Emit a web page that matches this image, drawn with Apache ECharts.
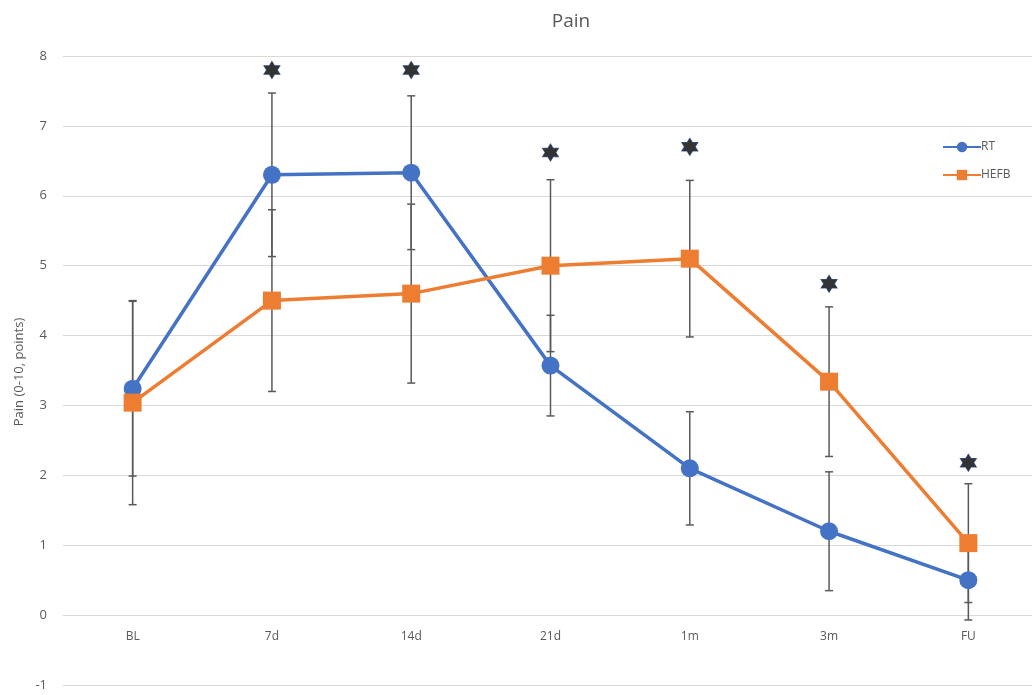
<!DOCTYPE html>
<html>
<head>
<meta charset="utf-8">
<title>Pain</title>
<script src="https://cdn.jsdelivr.net/npm/echarts@6/dist/echarts.min.js"></script>
<style>
  html, body { margin: 0; padding: 0; background: #ffffff; }
  #chart { width: 1032px; height: 695px; }
</style>
</head>
<body>
<div id="chart"></div>
<script>
// Time points
const categories = ['BL', '7d', '14d', '21d', '1m', '3m', 'FU'];

// Mean pain scores (0-10)
const rtMean   = [3.24, 6.30, 6.33, 3.57, 2.10, 1.20, 0.50];
const hefbMean = [3.04, 4.50, 4.60, 5.00, 5.10, 3.34, 1.03];

// Standard deviations (symmetric error bars)
const rtSD   = [1.25, 1.17, 1.10, 0.72, 0.81, 0.85, 0.57];
const hefbSD = [1.46, 1.30, 1.28, 1.23, 1.12, 1.07, 0.85];

// Significance markers: [category, height]
const sigMarks = [['7d', 7.8], ['14d', 7.8], ['21d', 6.62], ['1m', 6.7], ['3m', 4.74], ['FU', 2.18]];

// Y axis ticks
const yMin = -1, yMax = 8, yStep = 1;

const textColor = '#595959';
const gridColor = '#d9d9d9';
const barColor = '#595959';
const fontFamily = '"Open Sans", "Noto Sans", sans-serif';

// Plot box
const plotTop = 56, plotHeight = 629;
// Category labels sit on the zero line, one step above the bottom gridline
const zeroLift = -plotHeight / (yMax - yMin) * (0 - yMin);

function errorData(mean, sd) {
  return mean.map((m, i) => [i, m - sd[i], m + sd[i]]);
}

function renderErrorBar(params, api) {
  const x = api.value(0);
  const lo = api.coord([x, api.value(1)]);
  const hi = api.coord([x, api.value(2)]);
  const cap = 4;
  const style = { stroke: barColor, lineWidth: 1.5, fill: null };
  return {
    type: 'group',
    children: [
      { type: 'line', shape: { x1: hi[0], y1: hi[1], x2: lo[0], y2: lo[1] }, style },
      { type: 'line', shape: { x1: hi[0] - cap, y1: hi[1], x2: hi[0] + cap, y2: hi[1] }, style },
      { type: 'line', shape: { x1: lo[0] - cap, y1: lo[1], x2: lo[0] + cap, y2: lo[1] }, style }
    ]
  };
}

// Six-pointed star
const hexagram = 'path://M0,-10 L2.887,-5 L8.66,-5 L5.774,0 L8.66,5 L2.887,5 L0,10 L-2.887,5 L-8.66,5 L-5.774,0 L-8.66,-5 L-2.887,-5 Z';

const chart = echarts.init(document.getElementById('chart'), null, { renderer: 'canvas' });

chart.setOption({
  backgroundColor: '#ffffff',
  animation: false,
  textStyle: { fontFamily },
  title: {
    text: 'Pain',
    left: 566,
    top: 7,
    textAlign: 'center',
    textStyle: { color: textColor, fontSize: 19, fontWeight: 'normal', fontFamily }
  },
  legend: {
    orient: 'vertical',
    left: 937,
    top: 136,
    itemWidth: 38,
    itemHeight: 13,
    itemGap: 16,
    textStyle: { color: textColor, fontSize: 12, padding: [0, 0, 0, -5] },
    data: ['RT', 'HEFB']
  },
  grid: { left: 63, top: plotTop, width: 975, height: plotHeight, containLabel: false, outerBoundsMode: 'none' },
  xAxis: {
    type: 'category',
    data: categories,
    boundaryGap: true,
    position: 'bottom',
    offset: zeroLift,
    axisLine: { show: true, onZero: false, lineStyle: { color: gridColor, width: 1 } },
    axisTick: { show: false },
    axisLabel: { color: textColor, fontSize: 12, margin: 15 },
    splitLine: { show: false },
    z: 0
  },
  yAxis: {
    type: 'value',
    min: yMin,
    max: yMax,
    interval: yStep,
    axisLine: { show: false },
    axisTick: { show: false },
    axisLabel: { color: textColor, fontSize: 13, margin: 16 },
    splitLine: { show: true, lineStyle: { color: gridColor, width: 1 } }
  },
  graphic: [{
    type: 'text',
    x: 19,
    y: 372,
    rotation: Math.PI / 2,
    style: {
      text: 'Pain (0-10, points)',
      fill: textColor,
      fontSize: 13,
      fontFamily,
      align: 'center',
      verticalAlign: 'middle'
    }
  }],
  series: [
    {
      name: 'RT-err',
      type: 'custom',
      renderItem: renderErrorBar,
      data: errorData(rtMean, rtSD),
      encode: { x: 0, y: [1, 2] },
      z: 1,
      silent: true
    },
    {
      name: 'HEFB-err',
      type: 'custom',
      renderItem: renderErrorBar,
      data: errorData(hefbMean, hefbSD),
      encode: { x: 0, y: [1, 2] },
      z: 1,
      silent: true
    },
    {
      name: 'RT',
      type: 'line',
      data: rtMean,
      symbol: 'circle',
      symbolSize: 18,
      color: '#4472C4',
      lineStyle: { width: 3.5, color: '#4472C4' },
      itemStyle: { color: '#4472C4' },
      z: 3
    },
    {
      name: 'HEFB',
      type: 'line',
      data: hefbMean,
      symbol: 'rect',
      symbolSize: 18,
      color: '#ED7D31',
      lineStyle: { width: 3.5, color: '#ED7D31' },
      itemStyle: { color: '#ED7D31' },
      z: 4
    },
    {
      name: 'sig',
      type: 'scatter',
      data: sigMarks,
      symbol: hexagram,
      symbolSize: [16, 17],
      itemStyle: { color: '#000000', borderColor: '#1f3864', borderWidth: 1 },
      z: 5,
      silent: true
    }
  ]
});
</script>
</body>
</html>
